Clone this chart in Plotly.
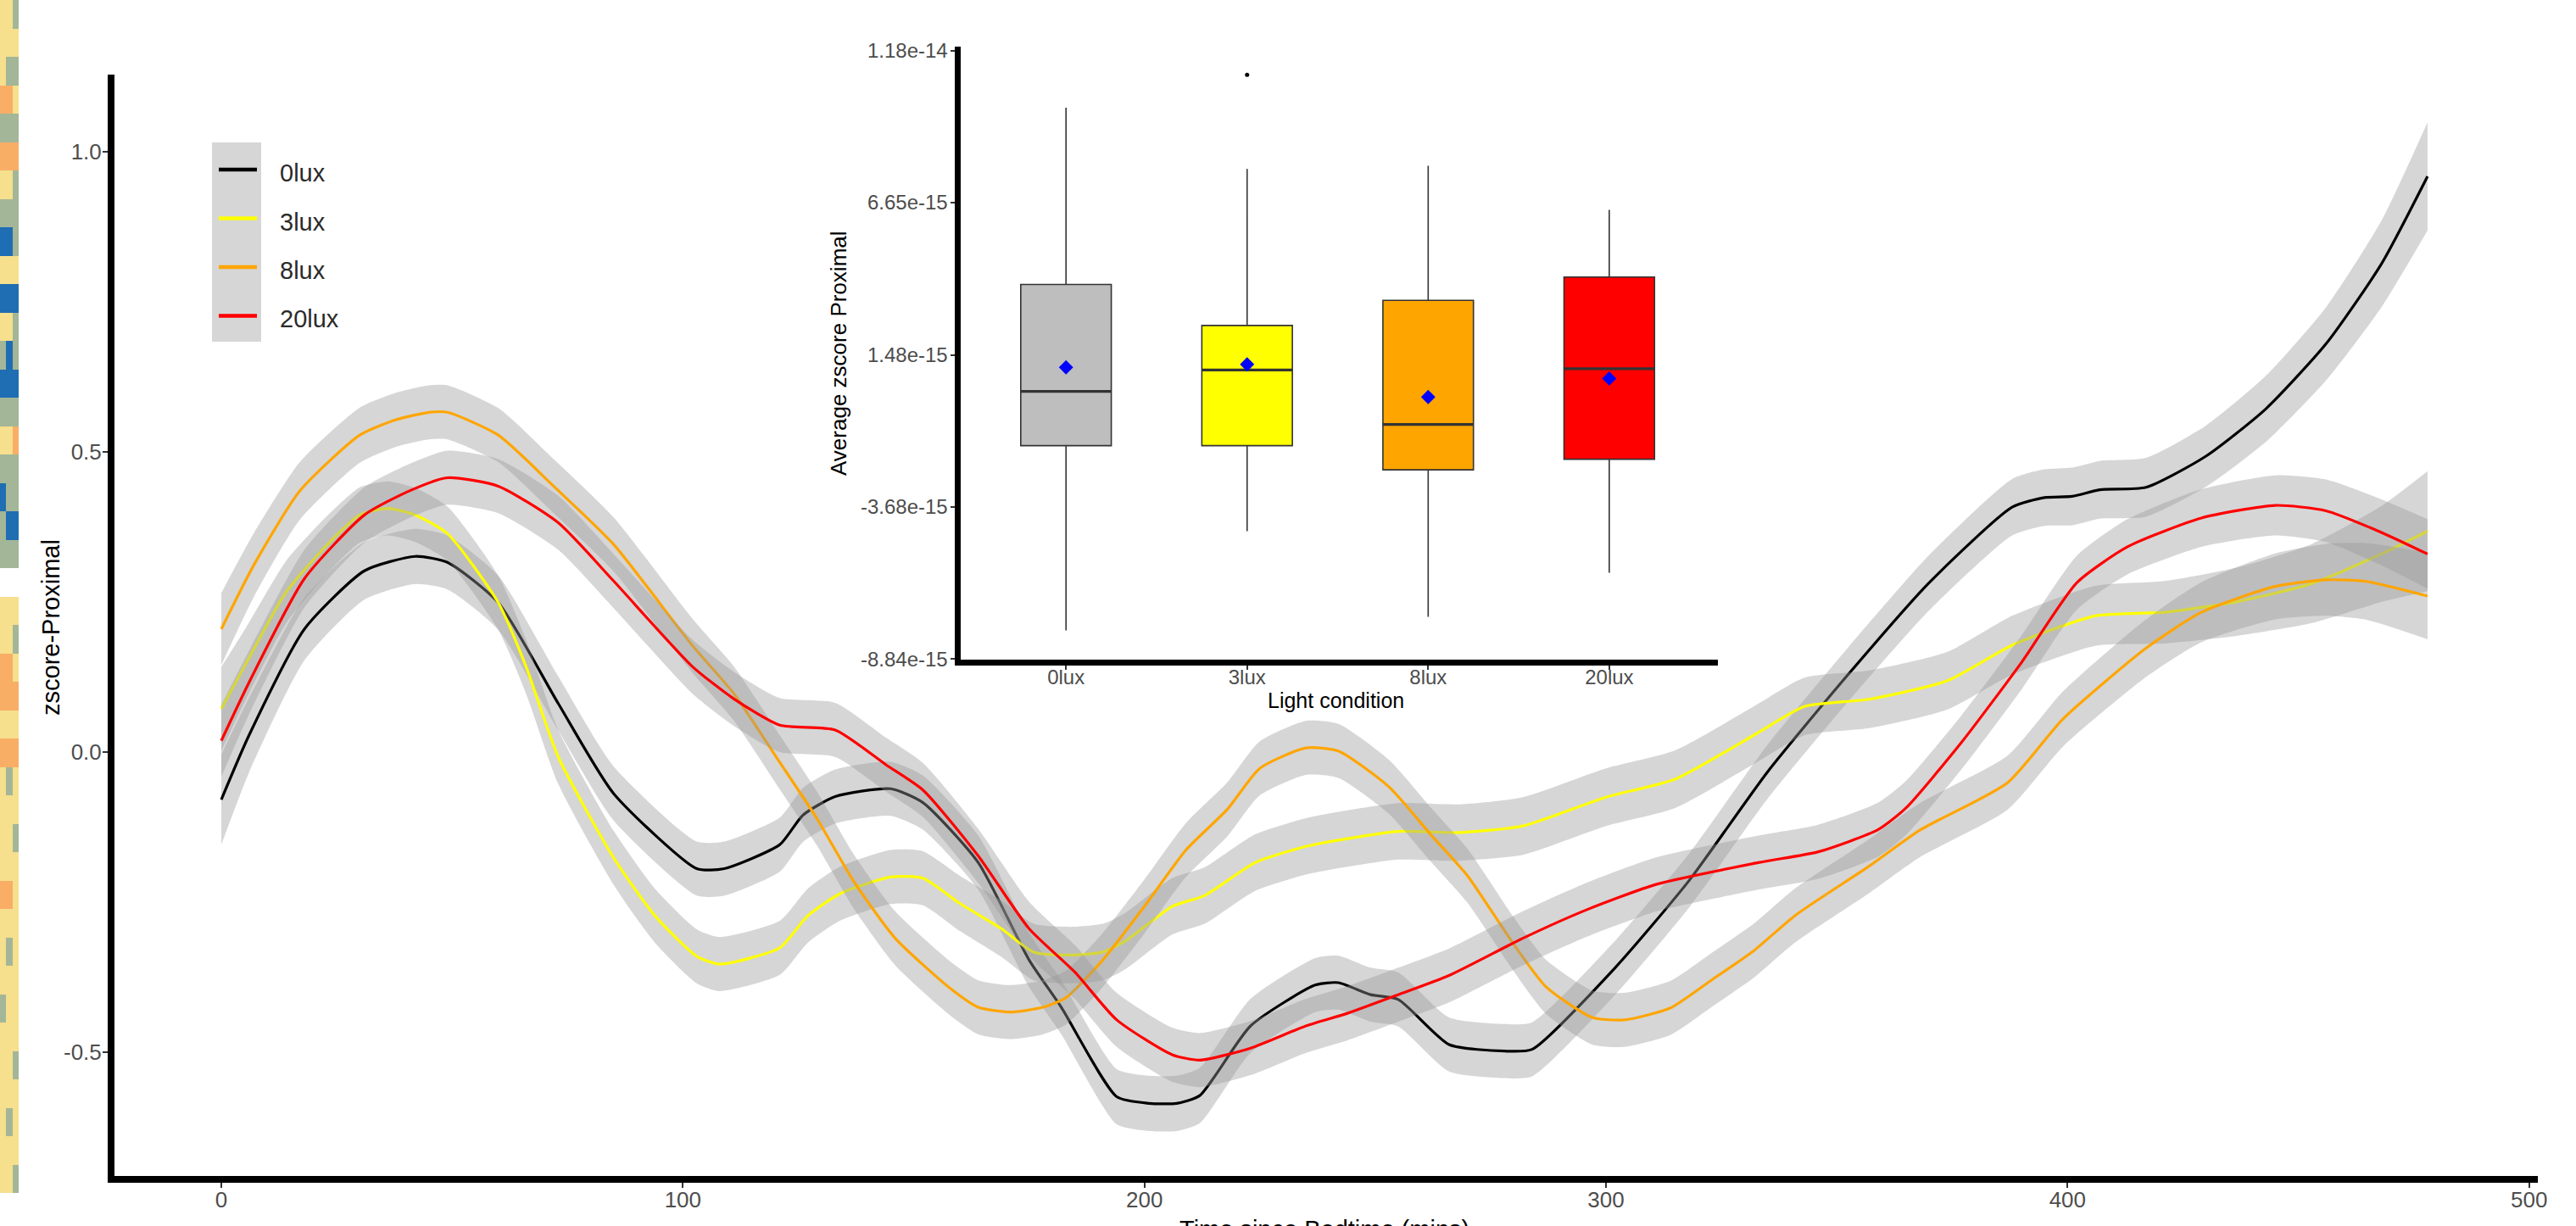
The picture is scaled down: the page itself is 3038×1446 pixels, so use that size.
import plotly.graph_objects as go

W, H = 3038, 1446

# ---------------- main chart data (time in mins, zscore) ----------------
black_t = [0, 6, 18, 31, 42, 49, 60, 73, 85, 103, 109, 121, 126, 133, 145, 152, 164, 175, 182, 194,
           201, 207, 212, 223, 237, 242, 249, 255, 266, 278, 284, 302, 318, 335, 352, 370, 388, 395,
           401, 407, 417, 430, 443, 456, 468, 478]
black_v = [-0.079, 0.028, 0.205, 0.302, 0.326, 0.316, 0.249, 0.081, -0.069, -0.194, -0.194, -0.154,
           -0.105, -0.074, -0.061, -0.084, -0.184, -0.346, -0.425, -0.574, -0.585, -0.585, -0.572,
           -0.456, -0.388, -0.384, -0.404, -0.412, -0.487, -0.498, -0.495, -0.359, -0.214, -0.033,
           0.125, 0.282, 0.408, 0.424, 0.426, 0.437, 0.441, 0.493, 0.572, 0.680, 0.813, 0.959]
black_hw = [0.075, 0.062, 0.052, 0.048, 0.046,
            0.045, 0.045, 0.045, 0.045, 0.045,
            0.045, 0.045, 0.045, 0.045, 0.045,
            0.045, 0.045, 0.045, 0.045, 0.046,
            0.046, 0.046, 0.046, 0.045, 0.045,
            0.045, 0.045, 0.045, 0.045, 0.045,
            0.045, 0.045, 0.045, 0.045, 0.045,
            0.046, 0.047, 0.047, 0.048, 0.048,
            0.049, 0.051, 0.055, 0.061, 0.072,
            0.090]

yellow_t = [0, 5, 14, 23, 30, 36, 42, 49, 60, 66, 73, 85, 94, 103, 108, 121, 127, 134, 145, 152,
            160, 169, 176, 184, 191, 196, 206, 213, 224, 235, 244, 255, 268, 282, 300, 315, 332,
            343, 357, 374, 388, 406, 421, 437, 453, 468, 478]
yellow_v = [0.072, 0.143, 0.266, 0.346, 0.395, 0.406, 0.395, 0.364, 0.249, 0.143, -0.008, -0.176,
            -0.273, -0.340, -0.353, -0.326, -0.273, -0.236, -0.208, -0.210, -0.252, -0.294, -0.333,
            -0.338, -0.333, -0.314, -0.257, -0.239, -0.184, -0.157, -0.144, -0.132, -0.134, -0.123,
            -0.075, -0.045, 0.028, 0.076, 0.088, 0.119, 0.178, 0.227, 0.233, 0.251, 0.281, 0.330,
            0.368]
yellow_hw = [0.070, 0.060, 0.052, 0.048, 0.046,
             0.045, 0.045, 0.045, 0.045, 0.045,
             0.045, 0.045, 0.045, 0.045, 0.045,
             0.045, 0.045, 0.045, 0.045, 0.045,
             0.046, 0.047, 0.047, 0.047, 0.047,
             0.047, 0.047, 0.047, 0.047, 0.047,
             0.047, 0.047, 0.047, 0.048, 0.048,
             0.048, 0.048, 0.048, 0.048, 0.048,
             0.049, 0.050, 0.052, 0.057, 0.066,
             0.080, 0.100]

orange_t = [0, 7, 17, 30, 38, 45, 49, 60, 72, 85, 102, 111, 121, 129, 137, 146, 158, 164, 171, 178,
            183, 191, 200, 209, 218, 225, 235, 242, 253, 262, 270, 280, 287, 297, 304, 314, 323,
            332, 341, 357, 368, 387, 399, 417, 429, 445, 456, 465, 478]
orange_v = [0.205, 0.311, 0.435, 0.528, 0.554, 0.566, 0.566, 0.528, 0.443, 0.346, 0.178, 0.098,
            -0.017, -0.110, -0.215, -0.310, -0.394, -0.425, -0.433, -0.425, -0.409, -0.346, -0.257,
            -0.163, -0.095, -0.027, 0.007, 0.002, -0.058, -0.137, -0.206, -0.320, -0.391, -0.442,
            -0.446, -0.426, -0.379, -0.331, -0.272, -0.190, -0.130, -0.051, 0.055, 0.173, 0.233,
            0.276, 0.287, 0.284, 0.260]
orange_hw = [0.060, 0.053, 0.048, 0.046, 0.045,
             0.045, 0.045, 0.045, 0.045, 0.045,
             0.045, 0.045, 0.045, 0.045, 0.045,
             0.045, 0.045, 0.045, 0.045, 0.045,
             0.045, 0.045, 0.045, 0.045, 0.045,
             0.045, 0.045, 0.045, 0.045, 0.045,
             0.045, 0.045, 0.045, 0.045, 0.045,
             0.045, 0.045, 0.045, 0.045, 0.045,
             0.045, 0.045, 0.046, 0.048, 0.050,
             0.055, 0.060, 0.064, 0.072]

red_t = [0, 6, 18, 31, 41, 49, 60, 73, 85, 102, 111, 121, 133, 144, 152, 164, 175, 185, 194, 206,
         212, 223, 235, 244, 255, 266, 282, 296, 311, 333, 346, 359, 365, 377, 390, 402, 413, 429,
         445, 456, 468, 478]
red_v = [0.019, 0.116, 0.289, 0.395, 0.436, 0.457, 0.443, 0.382, 0.285, 0.143, 0.089, 0.045, 0.037,
         -0.021, -0.063, -0.173, -0.294, -0.367, -0.446, -0.504, -0.513, -0.493, -0.456, -0.435,
         -0.404, -0.372, -0.310, -0.262, -0.220, -0.184, -0.166, -0.129, -0.093, 0.016, 0.149,
         0.282, 0.342, 0.390, 0.411, 0.402, 0.366, 0.330]
red_hw = [0.060, 0.053, 0.048, 0.046, 0.045,
          0.045, 0.045, 0.045, 0.045, 0.045,
          0.045, 0.045, 0.045, 0.045, 0.045,
          0.045, 0.045, 0.045, 0.045, 0.045,
          0.045, 0.045, 0.045, 0.045, 0.045,
          0.045, 0.045, 0.045, 0.045, 0.045,
          0.045, 0.045, 0.045, 0.045, 0.045,
          0.045, 0.046, 0.048, 0.050, 0.052,
          0.055, 0.058]

series_names = ["0lux", "3lux", "8lux", "20lux"]
series_colors = ["black", "#FFFF00", "#FFA500", "#FF0000"]

x_tick_vals = [0, 100, 200, 300, 400, 500]
y_tick_vals = [-0.5, 0.0, 0.5, 1.0]
y_tick_text = ["-0.5", "0.0", "0.5", "1.0"]

# ---------------- inset box plot data ----------------
box_cats = ["0lux", "3lux", "8lux", "20lux"]
box_fill = ["#BEBEBE", "#FFFF00", "#FFA500", "#FF0000"]
box_low = [-7.87e-15, -4.50e-15, -7.41e-15, -5.91e-15]
box_q1 = [-1.60e-15, -1.60e-15, -2.42e-15, -2.06e-15]
box_med = [0.24e-15, 0.97e-15, -0.88e-15, 1.01e-15]
box_q3 = [3.87e-15, 2.48e-15, 3.33e-15, 4.12e-15]
box_high = [9.87e-15, 7.79e-15, 7.90e-15, 6.40e-15]
box_mean = [1.06e-15, 1.16e-15, 0.05e-15, 0.68e-15]
outlier_cat = [2]
outlier_val = [1.098e-14]
inset_ticks = [-8.84e-15, -3.68e-15, 1.48e-15, 6.65e-15, 1.18e-14]
inset_tick_text = ["-8.84e-15", "-3.68e-15", "1.48e-15", "6.65e-15", "1.18e-14"]

# ---------------- left edge strip (fragment of a neighbouring heatmap) ----------------
# 0 = blue, 1 = grey-green, 2 = yellow, 3 = orange, None = white
strip_z = [
    [2, 2, 1], [2, 2, 2], [2, 1, 1], [3, 3, 2], [1, 1, 1], [3, 3, 3], [2, 2, 1], [1, 1, 1],
    [0, 0, 1], [2, 2, 2], [0, 0, 0], [2, 2, 1], [1, 0, 1], [0, 0, 0], [1, 1, 1], [2, 2, 3],
    [1, 1, 1], [0, 1, 1], [1, 0, 0], [1, 1, 1], [None, None, None], [2, 2, 2], [2, 2, 1],
    [3, 3, 2], [3, 3, 3], [2, 2, 2], [3, 3, 3], [2, 1, 2], [2, 2, 2], [2, 2, 1], [2, 2, 2],
    [3, 3, 2], [2, 2, 2], [2, 1, 2], [2, 2, 2], [1, 2, 2], [2, 2, 2], [2, 2, 1], [2, 2, 2],
    [2, 1, 2], [2, 2, 2], [2, 2, 1],
]


def py(p):
    return 1 - p / H


def pxx(p):
    return p / W


FONT = "Liberation Sans, Arial, sans-serif"

fig = go.Figure()

fig.add_trace(go.Heatmap(
    z=strip_z, xaxis="x3", yaxis="y3", zmin=-0.5, zmax=3.5, showscale=False, hoverinfo="skip",
    zsmooth=False,
    colorscale=[[0, "#1f6db2"], [0.25, "#1f6db2"], [0.25, "#a3b698"], [0.5, "#a3b698"],
                [0.5, "#f6df8d"], [0.75, "#f6df8d"], [0.75, "#f9ae66"], [1, "#f9ae66"]]))

all_series = [
    (black_t, black_v, black_hw),
    (yellow_t, yellow_v, yellow_hw),
    (orange_t, orange_v, orange_hw),
    (red_t, red_v, red_hw),
]
BAND = "rgba(153,153,153,0.4)"
for (t, v, hw), name, col in zip(all_series, series_names, series_colors):
    lo = [a - b for a, b in zip(v, hw)]
    up = [a + b for a, b in zip(v, hw)]
    fig.add_trace(go.Scatter(x=t, y=lo, mode="lines", line=dict(width=0, shape="spline", smoothing=0.6),
                             hoverinfo="skip", showlegend=False))
    fig.add_trace(go.Scatter(x=t, y=up, mode="lines", fill="tonexty", fillcolor=BAND,
                             line=dict(width=0, shape="spline", smoothing=0.6),
                             hoverinfo="skip", showlegend=False))
    fig.add_trace(go.Scatter(x=t, y=v, mode="lines", name=name,
                             line=dict(color=col, width=3.2, shape="spline", smoothing=0.6),
                             showlegend=False))

BOX_W = 0.5
for i, cat in enumerate(box_cats):
    fig.add_trace(go.Box(
        x=[i + 1], q1=[box_q1[i]], median=[box_med[i]], q3=[box_q3[i]],
        lowerfence=[box_low[i]], upperfence=[box_high[i]],
        xaxis="x2", yaxis="y2", fillcolor=box_fill[i], line=dict(color="#333333", width=1.6),
        width=BOX_W, whiskerwidth=0, boxpoints=False, showlegend=False, hoverinfo="skip", name=cat))
    fig.add_trace(go.Scatter(
        x=[i + 1 - BOX_W / 2, i + 1 + BOX_W / 2], y=[box_med[i], box_med[i]], mode="lines",
        xaxis="x2", yaxis="y2", line=dict(color="#333333", width=3.2), showlegend=False, hoverinfo="skip"))

fig.add_trace(go.Scatter(x=[1, 2, 3, 4], y=box_mean, mode="markers", xaxis="x2", yaxis="y2",
                         marker=dict(symbol="diamond", size=13, color="blue"), showlegend=False))
fig.add_trace(go.Scatter(x=outlier_cat, y=outlier_val, mode="markers", xaxis="x2", yaxis="y2",
                         marker=dict(size=5, color="black"), showlegend=False))

axis_common = dict(showline=True, linecolor="black", showgrid=False, zeroline=False,
                   ticks="outside", tickcolor="#333333", tickwidth=1.5, automargin=False)

fig.update_layout(
    width=W, height=H, margin=dict(l=0, r=0, t=0, b=0),
    paper_bgcolor="white", plot_bgcolor="white", showlegend=False,
    font=dict(family=FONT, color="#333333"),
    xaxis=dict(domain=[135 / W, 2993 / W], range=[-23.15, 501.9], linewidth=8, ticklen=6,
               tickvals=x_tick_vals, ticktext=[str(v) for v in x_tick_vals], ticklabelstandoff=-8,
               tickfont=dict(size=26, color="#4d4d4d", family=FONT), anchor="y", **axis_common),
    yaxis=dict(domain=[py(1387), py(88)], range=[-0.706, 1.1285], linewidth=8, ticklen=6,
               tickvals=y_tick_vals, ticktext=y_tick_text, ticklabelstandoff=-4,
               tickfont=dict(size=26, color="#4d4d4d", family=FONT), anchor="x", **axis_common),
    xaxis2=dict(domain=[1132.5 / W, 2026 / W], range=[0.416, 4.6], linewidth=7, ticklen=5,
                tickvals=[1, 2, 3, 4], ticktext=box_cats, ticklabelstandoff=-12,
                tickfont=dict(size=24, color="#4d4d4d", family=FONT), anchor="y2", **axis_common),
    yaxis2=dict(domain=[py(778), py(55)], range=[-8.86e-15, 1.194e-14], linewidth=7, ticklen=5,
                tickvals=inset_ticks, ticktext=inset_tick_text, ticklabelstandoff=-2,
                tickfont=dict(size=24, color="#4d4d4d", family=FONT), anchor="x2", **axis_common),
    xaxis3=dict(domain=[0, 22 / W], anchor="y3", visible=False),
    yaxis3=dict(domain=[py(1407), 1], anchor="x3", visible=False, autorange="reversed"),
)

# manual legend (grey key column like ggplot's smooth keys)
shapes = [dict(type="rect", xref="paper", yref="paper", x0=pxx(250), x1=pxx(308),
               y0=py(403), y1=py(168), fillcolor="#d6d6d6", line=dict(width=0), layer="above")]
annotations = []
for i, (name, col) in enumerate(zip(series_names, series_colors)):
    yl = 200 + i * 57.5
    shapes.append(dict(type="line", xref="paper", yref="paper", x0=pxx(258), x1=pxx(303),
                       y0=py(yl), y1=py(yl), line=dict(color=col, width=4.5), layer="above"))
    annotations.append(dict(text=name, xref="paper", yref="paper", x=pxx(328), y=py(yl + 4),
                            xanchor="left", yanchor="middle", showarrow=False,
                            font=dict(size=29, color="#2b2b2b", family=FONT)))

annotations += [
    dict(text="zscore-Proximal", xref="paper", yref="paper", x=pxx(60), y=py(740), textangle=-90,
         xanchor="center", yanchor="middle", showarrow=False,
         font=dict(size=29, color="black", family=FONT)),
    dict(text="Time since Bedtime (mins)", xref="paper", yref="paper", x=pxx(1562), y=py(1432),
         xanchor="center", yanchor="top", showarrow=False, font=dict(size=29, color="black", family=FONT)),
    dict(text="Average zscore Proximal", xref="paper", yref="paper", x=pxx(989), y=py(416),
         textangle=-90, xanchor="center", yanchor="middle", showarrow=False,
         font=dict(size=26, color="black", family=FONT)),
    dict(text="Light condition", xref="paper", yref="paper", x=pxx(1575), y=py(826),
         xanchor="center", yanchor="middle", showarrow=False,
         font=dict(size=25, color="black", family=FONT)),
]
fig.update_layout(shapes=shapes, annotations=annotations)

fig.write_html("out.html", config={"displayModeBar": False},
               post_script="document.body.style.margin='0';")
